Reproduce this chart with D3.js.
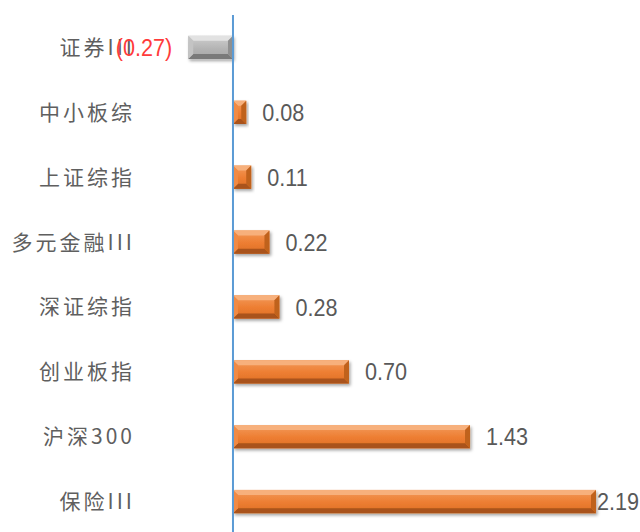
<!DOCTYPE html>
<html>
<head>
<meta charset="utf-8">
<script src="https://cdn.jsdelivr.net/npm/d3@7"></script>
<style>
  html, body { margin: 0; padding: 0; background: #fff; }
  #chart { width: 640px; height: 532px; }
</style>
</head>
<body>
<div id="chart"></div>
<script>
// data
var categories = ["证券III", "中小板综", "上证综指", "多元金融III", "深证综指", "创业板指", "沪深300", "保险III"];
var values     = [-0.27, 0.08, 0.11, 0.22, 0.28, 0.70, 1.43, 2.19];
var valueLabels = ["(0.27)", "0.08", "0.11", "0.22", "0.28", "0.70", "1.43", "2.19"];

var W = 640, H = 532;
var rows = categories.map(function(c, i) {
  return { cat: c, value: values[i], label: valueLabels[i] };
});

var svg = d3.select("#chart").append("svg")
  .attr("width", W).attr("height", H)
  .style("display", "block");

var defs = svg.append("defs");

// soft drop shadow under the bars
var f = defs.append("filter").attr("id", "shadow")
  .attr("x", "-10%").attr("y", "-30%").attr("width", "130%").attr("height", "180%");
f.append("feDropShadow")
  .attr("dx", 1.5).attr("dy", 2).attr("stdDeviation", 1.5)
  .attr("flood-color", "#000").attr("flood-opacity", 0.35);

// palettes for the bevelled bars
var palettes = {
  pos: { face: ["#f39a5a", "#ed7d31", "#dc6f26"], top: "#f7b07c", bottom: "#a9531a", left: "#f08a44", right: "#c0621f" },
  neg: { face: ["#cfcfcf", "#b4b4b4", "#a6a6a6"], top: "#e2e2e2", bottom: "#7a7a7a", left: "#c4c4c4", right: "#8f8f8f" }
};
Object.keys(palettes).forEach(function(k) {
  var g = defs.append("linearGradient").attr("id", "face-" + k)
    .attr("x1", 0).attr("y1", 0).attr("x2", 0).attr("y2", 1);
  g.append("stop").attr("offset", "0%").attr("stop-color", palettes[k].face[0]);
  g.append("stop").attr("offset", "55%").attr("stop-color", palettes[k].face[1]);
  g.append("stop").attr("offset", "100%").attr("stop-color", palettes[k].face[2]);
});

var x = d3.scaleLinear().domain([-0.5, 2.5]).range([150.1, 647.4]);
var y = d3.scaleBand().domain(categories).range([15, 534])
  .paddingInner(0.64).paddingOuter(0.32);

// category labels
svg.append("g").selectAll("text")
  .data(rows).enter().append("text")
  .attr("x", 135)
  .attr("y", function(d) { return y(d.cat) + y.bandwidth() / 2; })
  .attr("dy", "0.36em")
  .attr("text-anchor", "end")
  .attr("font-family", "'Noto Sans CJK SC', sans-serif")
  .attr("font-size", 21)
  .attr("letter-spacing", 3)
  .attr("fill", "#5f5f5f")
  .text(function(d) { return d.cat; });

// bars
var bars = svg.append("g").selectAll("g.bar")
  .data(rows).enter().append("g")
  .attr("class", "bar")
  .attr("filter", "url(#shadow)");

bars.each(function(d) {
  var g = d3.select(this);
  var p = d.value < 0 ? palettes.neg : palettes.pos;
  var x0 = Math.min(x(0), x(d.value)), x1 = Math.max(x(0), x(d.value));
  var y0 = y(d.cat), y1 = y0 + y.bandwidth();
  var b = Math.min(5, (x1 - x0) / 2, (y1 - y0) / 2);
  g.append("rect")
    .attr("x", x0).attr("y", y0)
    .attr("width", x1 - x0).attr("height", y1 - y0)
    .attr("fill", "url(#face-" + (d.value < 0 ? "neg" : "pos") + ")");
  var polys = [
    [[x0, y0], [x1, y0], [x1 - b, y0 + b], [x0 + b, y0 + b], p.top],
    [[x0, y1], [x1, y1], [x1 - b, y1 - b], [x0 + b, y1 - b], p.bottom],
    [[x0, y0], [x0 + b, y0 + b], [x0 + b, y1 - b], [x0, y1], p.left],
    [[x1, y0], [x1 - b, y0 + b], [x1 - b, y1 - b], [x1, y1], p.right]
  ];
  polys.forEach(function(pp) {
    g.append("polygon")
      .attr("points", pp.slice(0, 4).map(function(q) { return q.join(","); }).join(" "))
      .attr("fill", pp[4]);
  });
});

// vertical axis line at zero
svg.append("line")
  .attr("x1", x(0)).attr("x2", x(0))
  .attr("y1", 15).attr("y2", H)
  .attr("stroke", "#5b9bd5").attr("stroke-width", 2);

// value labels (digits in the original are tall and narrow, so squeeze horizontally)
var sx = 0.9;
svg.append("g").selectAll("text")
  .data(rows).enter().append("text")
  .attr("dy", "0.36em")
  .attr("font-family", "'Liberation Sans', Arial, sans-serif")
  .attr("font-size", 24)
  .attr("fill", function(d) { return d.value < 0 ? "#ff3b3b" : "#595959"; })
  .attr("text-anchor", function(d) { return d.value < 0 ? "end" : "start"; })
  .text(function(d) { return d.label; })
  .attr("transform", function(d) {
    var cy = y(d.cat) + y.bandwidth() / 2;
    var px;
    if (d.value < 0) {
      px = x(d.value) - 16;
    } else {
      var w = this.getComputedTextLength() * sx;
      px = x(d.value) + 16;
      if (px + w > W - 2) px = x(d.value) + 1;
    }
    return "translate(" + px + "," + cy + ") scale(" + sx + ",1)";
  });
</script>
</body>
</html>
